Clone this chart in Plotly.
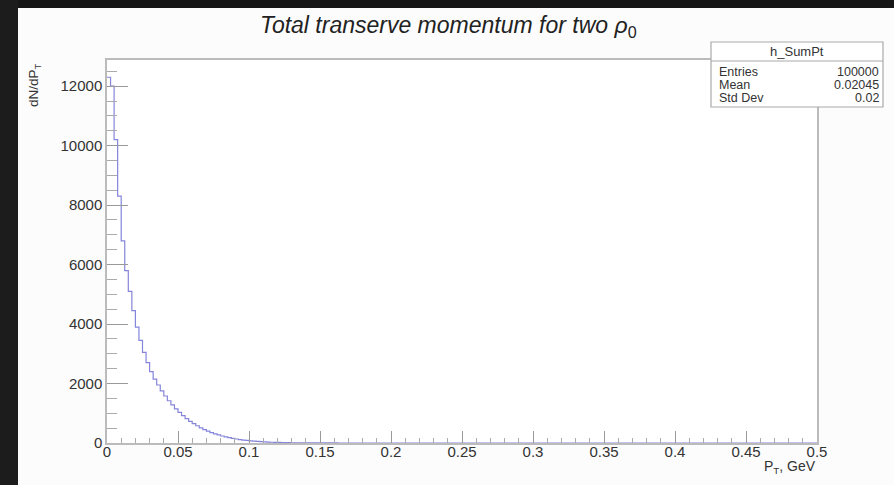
import plotly.graph_objects as go

# ---- data ----
bin_width = 0.0025
counts = [12300, 12000, 10200, 8300, 6800, 5800, 5100, 4450, 3900, 3450,
          3050, 2700, 2400, 2150, 1950, 1750, 1580, 1420, 1280, 1150,
          1030, 920, 820, 730, 650, 580, 510, 450, 400, 350,
          310, 270, 235, 205, 180, 155, 135, 115, 100, 85,
          72, 62, 52, 44, 37, 31, 26, 22, 18, 15,
          12, 10, 8, 7, 6, 5, 4, 3, 3, 2,
          2, 1, 1, 1, 1] + [0] * 135
stats_labels = ["Entries", "Mean", "Std Dev"]
stats_values = ["100000", "0.02045", "0.02"]
hist_name = "h_SumPt"
x_tickvals = [0, 0.05, 0.1, 0.15, 0.2, 0.25, 0.3, 0.35, 0.4, 0.45, 0.5]
x_ticktext = ["0", "0.05", "0.1", "0.15", "0.2", "0.25", "0.3", "0.35", "0.4", "0.45", "0.5"]
y_tickvals = [0, 2000, 4000, 6000, 8000, 10000, 12000]
y_ticktext = ["0", "2000", "4000", "6000", "8000", "10000", "12000"]

W, H = 894, 485
L, R, T, B = 107, 77, 60, 42
PW, PH = W - L - R, H - T - B


def px(x):
    return (x - L) / PW


def py(y):
    return (H - B - y) / PH


edges = [i * bin_width for i in range(len(counts) + 1)]
yvals = counts + [counts[-1]]

fig = go.Figure()
fig.add_trace(go.Scatter(x=edges, y=yvals, mode="lines", line_shape="hv",
                         line=dict(color="#8585dc", width=1.2),
                         hoverinfo="skip", showlegend=False))

font = "Liberation Sans, Arial, Helvetica, sans-serif"
fig.update_layout(
    width=W, height=H,
    margin=dict(l=L, r=R, t=T, b=B),
    paper_bgcolor="#fcfcfc", plot_bgcolor="white",
    font=dict(family=font, color="#333333", size=13),
    showlegend=False,
    title=dict(text="<i>Total transerve momentum for two ρ</i><sub>0</sub>",
               x=px(463), xanchor="center", y=1 - 25 / H, yanchor="middle",
               font=dict(size=23, color="#222222")),
)
fig.update_xaxes(range=[0, 0.5], tickvals=x_tickvals, ticktext=x_ticktext,
                 ticks="inside", ticklen=12, tickcolor="#999999", tickwidth=1,
                 minor=dict(dtick=0.01, ticks="inside", ticklen=5, tickcolor="#aaaaaa"),
                 showgrid=False, zeroline=False, showline=True, linecolor="#bbbbbb",
                 linewidth=1.5, mirror=True, ticklabelstandoff=-6,
                 tickfont=dict(size=15, color="#333333"))
fig.update_yaxes(range=[0, 12880], tickvals=y_tickvals, ticktext=y_ticktext,
                 ticks="inside", ticklen=21, tickcolor="#999999", tickwidth=1,
                 minor=dict(dtick=500, ticks="inside", ticklen=10, tickcolor="#aaaaaa"),
                 showgrid=False, zeroline=False, showline=True, linecolor="#bbbbbb",
                 linewidth=1.5, mirror=True, tickfont=dict(size=15, color="#333333"))

shapes = [
    # dark photo edges
    dict(type="rect", xref="paper", yref="paper", x0=px(0), x1=px(W), y0=py(8), y1=py(0),
         fillcolor="#161616", line=dict(width=0), layer="above"),
    dict(type="rect", xref="paper", yref="paper", x0=px(0), x1=px(18), y0=py(H), y1=py(0),
         fillcolor="#1c1c1c", line=dict(width=0), layer="above"),
    # stats box
    dict(type="rect", xref="paper", yref="paper", x0=px(711), x1=px(883), y0=py(107), y1=py(42),
         fillcolor="white", line=dict(color="#aaaaaa", width=1.2), layer="above"),
    dict(type="line", xref="paper", yref="paper", x0=px(711), x1=px(883), y0=py(61), y1=py(61),
         line=dict(color="#aaaaaa", width=1.2), layer="above"),
]
fig.update_layout(shapes=shapes)

ann = []
ann.append(dict(text=hist_name, x=px(797), y=py(52), xref="paper", yref="paper",
                xanchor="center", yanchor="middle", showarrow=False, borderpad=0,
                font=dict(size=13, color="#333333")))
for i, (lab, val) in enumerate(zip(stats_labels, stats_values)):
    yy = py(72 + 13 * i)
    ann.append(dict(text=lab, x=px(718), y=yy, xref="paper", yref="paper",
                    xanchor="left", yanchor="middle", showarrow=False, borderpad=0,
                    font=dict(size=12.5, color="#333333")))
    ann.append(dict(text=val, x=px(880), y=yy, xref="paper", yref="paper",
                    xanchor="right", yanchor="middle", showarrow=False, borderpad=0,
                    font=dict(size=12.5, color="#333333")))
ann.append(dict(text="dN/dP<sub>T</sub>", x=px(34), y=py(85), xref="paper", yref="paper",
                xanchor="center", yanchor="middle", textangle=-90, showarrow=False,
                font=dict(size=13.5, color="#333333")))
ann.append(dict(text="P<sub>T</sub>, GeV", x=px(818), y=py(467), xref="paper", yref="paper",
                xanchor="right", yanchor="middle", showarrow=False,
                font=dict(size=14, color="#333333")))
fig.update_layout(annotations=ann)

fig.write_html("out.html")
